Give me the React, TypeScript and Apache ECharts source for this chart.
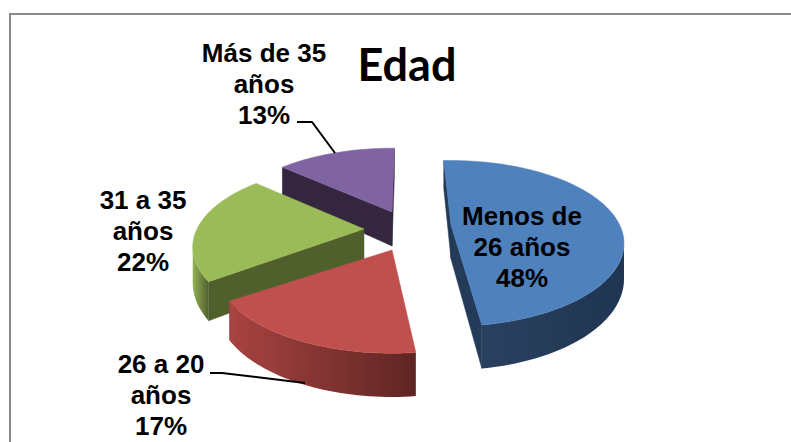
import React, { useEffect, useRef } from "react";
import * as echarts from "echarts";

const categories = ["Menos de\n26 años", "26 a 20\naños", "31 a 35\naños", "Más de 35\naños"];
const shares = [48, 17, 22, 13];
const chartTitle = "Edad";

// layout and style, kept apart from the data
const firstAngle = -3;
const startNudge = [0, 4, 3, 1];
const endNudge = [2, 5, 2, 4];
const apexes = [[451, 225], [392, 250], [364, 229], [392, 212]];
const scales = [1.01, 1.03, 1, 1];
const topColors = ["#4F81BD", "#C0504D", "#9BBB59", "#8064A2"];
const wallColors = ["#233A58", "#5F2523", "#50602D", "#35263F"];
const arcRight = ["#1F3552", "#5E2523", "#50602D", "#35263F"];
const arcLeft = ["#29415F", "#A84341", "#94B256", "#5A4672"];
const labelPos = [[522, 247], [161, 395], [143, 231], [264, 84]];
const z2s = [3, 4, 2, 1];
const R = 167, ratio = 0.467, persp = 0.222, depth = 34;

const rad = (d: number) => (d * Math.PI) / 180;

function renderSlice(params: any, api: any) {
  const i = params.dataIndex;
  const value = api.value(0);
  const total = shares.reduce((a, b) => a + b, 0);
  const before = shares.slice(0, i).reduce((a, b) => a + b, 0);
  const start = firstAngle + (before / total) * 360 + startNudge[i];
  const end = firstAngle + ((before + value) / total) * 360 + endNudge[i];
  const [ax, ay] = apexes[i];
  const s = scales[i];
  const z2 = z2s[i];
  const proj = (deg: number) => {
    const u = Math.sin(rad(deg));
    const v = -Math.cos(rad(deg));
    const p = 1 / (1 - persp * v);
    return { x: ax + R * s * u * p, y: ay + R * ratio * s * v * p, d: depth * p };
  };
  const children: any[] = [];
  const poly = (points: number[][], fill: any, stroke?: string) =>
    children.push({
      type: "polygon",
      z2,
      shape: { points },
      style: { fill, stroke: stroke ?? "none", lineWidth: stroke ? 0.5 : 0 },
      silent: true,
    });
  const radialWall = (a: any, b: any) => {
    if (b.x < a.x) poly([[a.x, a.y], [b.x, b.y], [b.x, b.y + b.d], [a.x, a.y + a.d]], wallColors[i], wallColors[i]);
  };
  const apex = { x: ax, y: ay, d: depth };
  const steps = Math.max(24, Math.round((end - start) / 1.5));
  const pts: any[] = [];
  for (let k = 0; k <= steps; k++) pts.push(proj(start + ((end - start) * k) / steps));
  radialWall(apex, pts[0]);
  radialWall(pts[steps], apex);
  const front = pts.filter((q, k) => (k < steps && pts[k + 1].x < q.x) || (k > 0 && q.x < pts[k - 1].x));
  if (front.length > 1) {
    poly(
      [...front.map((q) => [q.x, q.y]), ...front.slice().reverse().map((q) => [q.x, q.y + q.d])],
      new echarts.graphic.LinearGradient(0, 0, 1, 0, [
        { offset: 0, color: arcLeft[i] },
        { offset: 1, color: arcRight[i] },
      ]),
    );
  }
  poly([[ax, ay], ...pts.map((q) => [q.x, q.y])], topColors[i], topColors[i]);
  children.push({
    type: "text",
    z2: 10,
    silent: true,
    style: {
      x: labelPos[i][0],
      y: labelPos[i][1],
      text: `${categories[i]}\n${value}%`,
      fill: "#000",
      font: 'bold 26px "Liberation Sans", Arial, sans-serif',
      lineHeight: 31,
      textAlign: "center",
      textVerticalAlign: "middle",
    },
  });
  return { type: "group", children };
}

export default function App() {
  const ref = useRef<HTMLDivElement>(null);
  useEffect(() => {
    const chart = echarts.init(ref.current!, undefined, { renderer: "svg" });
    chart.setOption({
      animation: false,
      backgroundColor: "#fff",
      title: {
        text: chartTitle,
        left: 402,
        top: 36,
        textAlign: "center",
        textStyle: { fontFamily: "Lato", fontWeight: "bold", fontSize: 45, color: "#000" },
      },
      graphic: [
        { type: "polyline", shape: { points: [[10, 442], [10, 14], [791, 14]] }, style: { fill: "none", stroke: "#8a8a8a", lineWidth: 2 } },
        { type: "polyline", z: 5, shape: { points: [[297, 122], [312, 122], [335, 153]] }, style: { fill: "none", stroke: "#000", lineWidth: 2 } },
        { type: "polyline", z: 5, shape: { points: [[210, 373], [222, 373], [305, 383]] }, style: { fill: "none", stroke: "#000", lineWidth: 2 } },
      ],
      series: [
        {
          type: "custom",
          coordinateSystem: "none",
          renderItem: renderSlice,
          data: shares.map((v) => [v]),
        },
      ],
    });
    return () => chart.dispose();
  }, []);
  return <div ref={ref} style={{ position: "absolute", left: 0, top: 0, width: 791, height: 442 }} />;
}
